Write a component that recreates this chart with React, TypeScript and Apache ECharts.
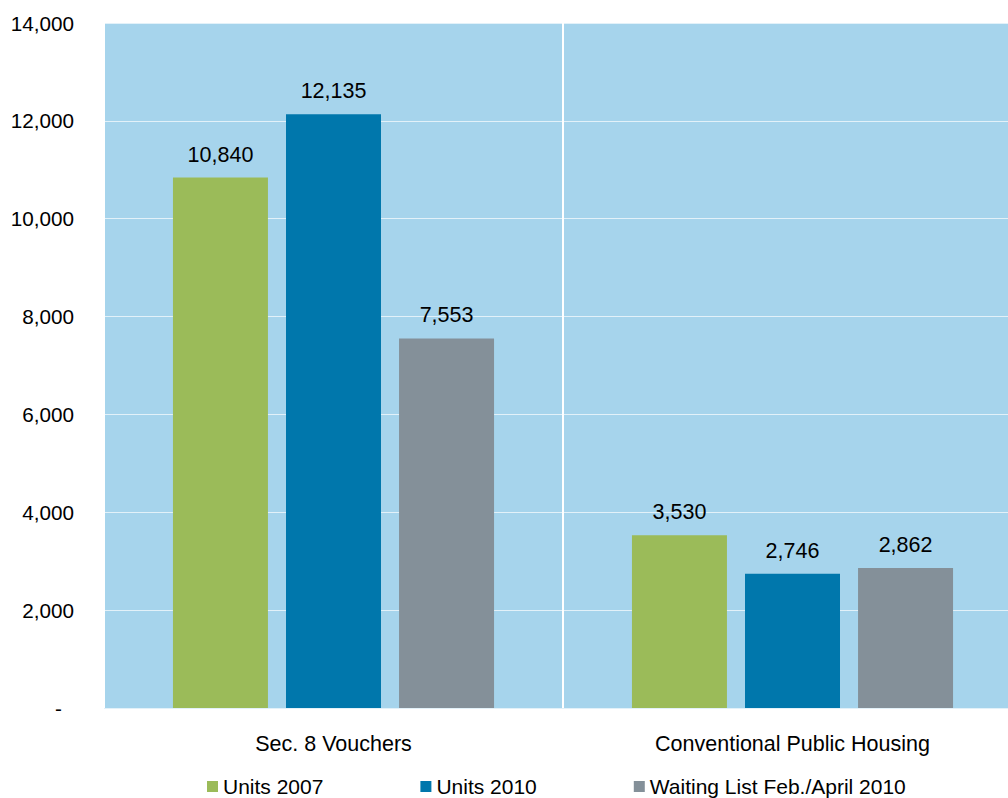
import React, { useEffect, useRef } from "react";
import * as echarts from "echarts";

// Housing assistance counts by program
const categories = ["Sec. 8 Vouchers", "Conventional Public Housing"];
const seriesNames = ["Units 2007", "Units 2010", "Waiting List Feb./April 2010"];
const units2007 = [10840, 3530];
const units2010 = [12135, 2746];
const waitingList = [7553, 2862];
const seriesColors = ["#9BBB59", "#0077AC", "#849099"];
const yTicks = { min: 0, max: 14000, interval: 2000 };

const FONT = "Liberation Sans, Arial, sans-serif";

export default function App() {
  const ref = useRef<HTMLDivElement>(null);

  useEffect(() => {
    if (!ref.current) return;
    const chart = echarts.init(ref.current, undefined, { renderer: "svg" });
    const values = [units2007, units2010, waitingList];

    chart.setOption({
      animation: false,
      textStyle: { fontFamily: FONT, color: "#000" },
      // plot area runs past the right edge of the visible frame
      grid: {
        left: 104,
        right: 0,
        top: 23,
        bottom: 90,
        show: true,
        backgroundColor: "#A6D4EC",
        borderWidth: 0,
      },
      legend: {
        left: 207,
        top: 776,
        padding: 0,
        itemWidth: 11,
        itemHeight: 11,
        itemGap: 97,
        icon: "rect",
        textStyle: { fontSize: 21, color: "#000", fontFamily: FONT },
        data: seriesNames,
      },
      xAxis: {
        type: "category",
        data: categories,
        axisLine: { show: false },
        axisTick: { show: false },
        splitLine: { show: true, lineStyle: { color: "#FFFFFF", width: 2 } },
        axisLabel: { fontSize: 21.5, color: "#000", margin: 25, fontFamily: FONT },
      },
      yAxis: {
        type: "value",
        min: yTicks.min,
        max: yTicks.max,
        interval: yTicks.interval,
        axisLine: { show: false },
        axisTick: { show: false },
        splitLine: { lineStyle: { color: "#E2F1F9", width: 1 } },
        axisLabel: {
          fontSize: 20.7,
          color: "#000",
          margin: 30,
          fontFamily: FONT,
          formatter: (v: number) =>
            v === 0 ? "{dash|-}" : v.toLocaleString("en-US"),
          rich: {
            dash: { fontSize: 20.7, color: "#000", padding: [0, 12, 0, 0], fontFamily: FONT },
          },
        },
      },
      series: seriesNames.map((name, i) => ({
        name,
        type: "bar",
        data: values[i],
        barWidth: 95,
        barGap: "19%",
        itemStyle: { color: seriesColors[i] },
        label: {
          show: true,
          position: "top",
          distance: 12,
          fontSize: 21.5,
          color: "#000",
          fontFamily: FONT,
          formatter: (p: any) => Number(p.value).toLocaleString("en-US"),
        },
      })),
    });

    return () => chart.dispose();
  }, []);

  return (
    <div
      style={{
        position: "absolute",
        left: 0,
        top: 0,
        width: 1008,
        height: 798,
        overflow: "hidden",
      }}
    >
      <div ref={ref} style={{ width: 1022, height: 798 }} />
    </div>
  );
}
